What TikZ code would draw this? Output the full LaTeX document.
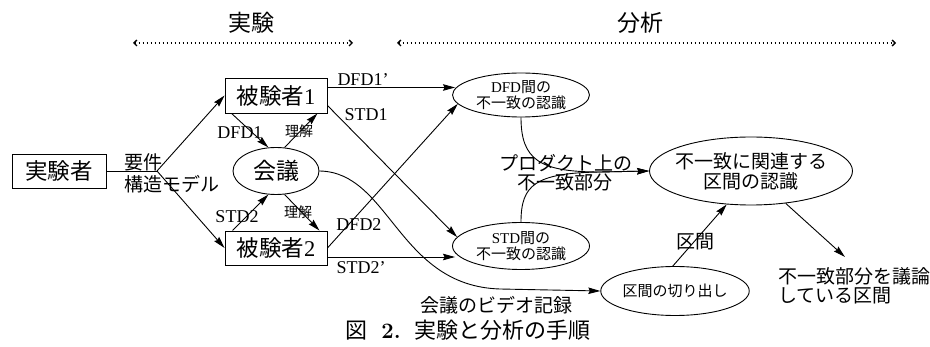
\documentclass[tikz,border=0pt]{standalone}
\usepackage{fontspec}
\newfontfamily\jp{Noto Sans CJK JP}
\newfontfamily\tms{Liberation Serif}
\usetikzlibrary{shapes.geometric,arrows.meta}
\begin{document}
\begin{tikzpicture}[x=1pt,y=-1pt,
  ln/.style={line width=0.9pt},
  arr/.style={line width=0.9pt,-{Stealth[length=12pt,width=6.5pt,inset=1.5pt]}},
  rbox/.style={draw,line width=0.9pt,rectangle,inner sep=0pt,font=\fontsize{22.5}{22.5}\selectfont},
  ell/.style={draw,line width=0.9pt,ellipse,inner sep=0pt,align=center},
  jpl/.style={font=\jp\fontsize{19}{22}\selectfont},
  tml/.style={font=\tms\fontsize{18}{18}\selectfont},
  sml/.style={font=\jp\fontsize{14}{14}\selectfont},
  ttl/.style={font=\jp\fontsize{23}{23}\selectfont},
  dotline/.style={line width=1.3pt,dash pattern=on 1.3pt off 2.7pt,{Straight Barb[length=3pt,width=6pt]}-{Straight Barb[length=3pt,width=6pt]}}
]
\useasboundingbox (0,0) rectangle (930,347);
\fill[white] (0,0) rectangle (930,347);

% titles
\node[ttl] (t1) at (251,23) {実験};
\node[ttl] (t2) at (640,23) {分析};
\coordinate (d1l) at (133,43);
\coordinate (d1r) at (353,43);
\coordinate (d2l) at (397,43);
\coordinate (d2r) at (896,43);
\draw[dotline] (d1l) -- (d1r);
\draw[dotline] (d2l) -- (d2r);

% nodes
\node[rbox,minimum width=94,minimum height=34] (exp) at (59,171) {\jp 実験者};
\node[rbox,minimum width=102,minimum height=35] (s1) at (276,95.5) {{\jp 被験者}{\tms 1}};
\node[rbox,minimum width=102,minimum height=34] (s2) at (276,248) {{\jp 被験者}{\tms 2}};
\node[ell,minimum width=86,minimum height=47,font=\jp\fontsize{23}{23}\selectfont] (kaigi) at (276,171) {会議};
\node[ell,minimum width=137,minimum height=44,font=\fontsize{15}{16}\selectfont] (dfd) at (521,95) {{\tms DFD}{\jp 間の}\\{\jp 不一致の認識}};
\node[ell,minimum width=137,minimum height=47,font=\fontsize{15}{16}\selectfont] (std) at (521,246) {{\tms STD}{\jp 間の}\\{\jp 不一致の認識}};
\node[ell,minimum width=203,minimum height=68,
  label={[align=center,font=\jp\fontsize{19}{20}\selectfont]center:不一致に関連する\\区間の認識}] (rel) at (751,171) {};
\node[ell,minimum width=136,minimum height=49,font=\jp\fontsize{15}{15}\selectfont] (cut) at (675,291) {区間の切り出し};
\node[jpl,anchor=west,align=left,font=\jp\fontsize{19}{19.5}\selectfont] (outt) at (775,286) {不一致部分を議論\\している区間};

% connectors
\coordinate (b) at (157,171);
\draw[ln] (exp.east) -- (b);
\draw[arr] (b) -- (s1.west);
\draw[arr] (b) -- (s2.west);
\node[jpl,anchor=west,align=left] (req) at (121,173) {要件\\構造モデル};

\draw[arr] ([xshift=7]s1.south west) -- (kaigi.108);
\draw[arr] (kaigi.70) -- ([xshift=-10]s1.south east);
\draw[arr] ([xshift=8]s2.north west) -- (kaigi.252);
\draw[arr] (kaigi.290) -- ([xshift=-8]s2.north east);
\node[tml] (l1) at (240,133) {DFD1};
\node[sml] (l2) at (299,131) {理解};
\node[tml] (l3) at (237,217) {STD2};
\node[sml] (l4) at (298,212) {理解};

\coordinate (s1o) at ([yshift=8]s1.east);
\coordinate (s2o) at ([yshift=-9]s2.east);
\draw[arr,shorten >=-3pt] (s1o) -- (s1o -| dfd.west);
\draw[arr] ([yshift=-10]s1.east) -- (std.172);
\draw[arr] (s2.east) -- (dfd.188);
\draw[arr,shorten >=-3pt] (s2o) -- (s2o -| std.west);
\node[tml] (l5) at (363,80) {DFD1’};
\node[tml] (l6) at (366,115) {STD1};
\node[tml] (l7) at (359,225) {DFD2};
\node[tml] (l8) at (361,268) {STD2’};

\draw[arr] (kaigi.east) .. controls (390,172) and (398,286) .. (500,289) -- (cut.west);
\node[jpl] (l9) at (496,305) {会議のビデオ記録};

\draw[arr] (dfd.south) .. controls (521,160) and (540,172) .. (600,172) -- (rel.west);
\draw[arr] (std.north) .. controls (521,185) and (535,173) .. (600,172) -- (rel.west);
\node[jpl,anchor=west,align=left,font=\jp\fontsize{19}{19}\selectfont] (l10) at (496,173) {プロダクト上の\\\hspace*{0.95em}不一致部分};

\draw[arr] (cut.95) -- (rel.234);
\node[jpl] (l11) at (695,242) {区間};

\coordinate (outp) at (845,257);
\draw[arr] (rel.317) -- (outp);

% caption
\node[font=\fontsize{22}{22}\selectfont] (cap) at (468,330) {{\jp 図}\hspace{0.65em}\textbf{2.}\hspace{0.65em}{\jp 実験と分析の手順}};
\end{tikzpicture}
\end{document}
